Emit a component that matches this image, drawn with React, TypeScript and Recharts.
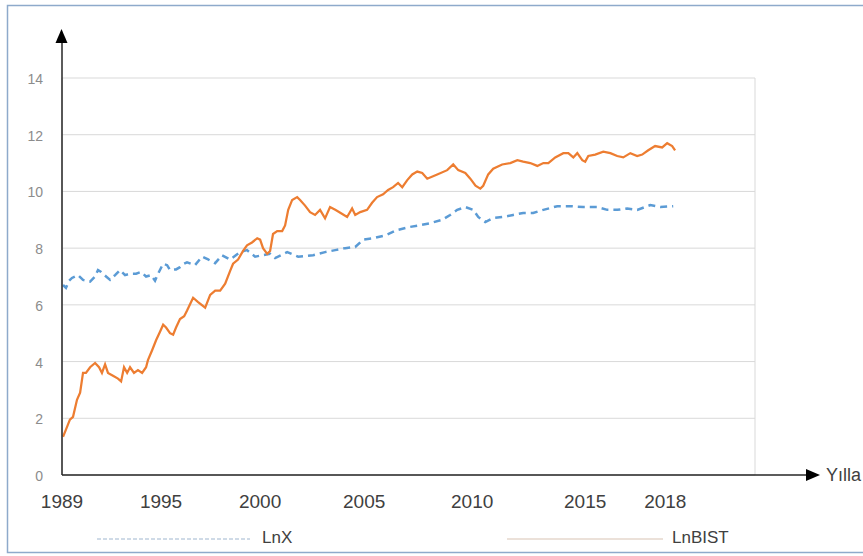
import React from 'react';
import { LineChart, Line, XAxis, YAxis, CartesianGrid } from 'recharts';

// LnBIST (orange) – decimal year / value pairs
const bistYears = [
  1989.05, 1989.19, 1989.38, 1989.53, 1989.72, 1989.87, 1990.01, 1990.15, 1990.35, 1990.59,
  1990.78, 1990.92, 1991.07, 1991.21, 1991.45, 1991.69, 1991.84, 1991.98, 1992.13, 1992.27,
  1992.46, 1992.65, 1992.85, 1993.04, 1993.13, 1993.33, 1993.52, 1993.71, 1993.86, 1994.0,
  1994.19, 1994.34, 1994.48, 1994.67, 1994.87, 1995.01, 1995.3, 1995.54, 1995.88, 1996.12,
  1996.36, 1996.6, 1996.84, 1997.08, 1997.22, 1997.46, 1997.7, 1997.89, 1998.13, 1998.38,
  1998.52, 1998.66, 1998.86, 1999.0, 1999.14, 1999.34, 1999.58, 1999.72, 1999.87, 2000.06,
  2000.3, 2000.44, 2000.68, 2000.92, 2001.16, 2001.4, 2001.64, 2001.88, 2002.13, 2002.37,
  2002.7, 2002.94, 2003.09, 2003.33, 2003.66, 2003.9, 2004.14, 2004.43, 2004.67, 2004.91,
  2005.15, 2005.35, 2005.59, 2005.83, 2006.07, 2006.31, 2006.55, 2007.03, 2007.51, 2007.8,
  2008.04, 2008.38, 2008.62, 2008.87, 2009.1, 2009.24, 2009.48, 2009.72, 2010.15, 2010.54,
  2010.88, 2011.16, 2011.5, 2011.84, 2012.13, 2012.37, 2012.7, 2013.09, 2013.33, 2013.57,
  2013.76, 2014.0, 2014.14, 2014.29, 2014.62, 2015.01, 2015.35, 2015.68, 2015.97, 2016.31,
  2016.64, 2016.88, 2017.17, 2017.5, 2017.84, 2018.08, 2018.32, 2018.46,
];
const bistValues = [
  1.35, 1.6, 1.95, 2.05, 2.65, 2.9, 3.6, 3.6, 3.8, 3.95,
  3.8, 3.6, 3.9, 3.6, 3.5, 3.4, 3.3, 3.8, 3.6, 3.8,
  3.6, 3.7, 3.6, 3.8, 4.05, 4.4, 4.75, 5.05, 5.3, 5.2,
  5.0, 4.95, 5.2, 5.5, 5.6, 5.8, 6.25, 6.1, 5.9, 6.35,
  6.5, 6.5, 6.75, 7.2, 7.45, 7.6, 7.9, 8.1, 8.2, 8.35,
  8.3, 8.0, 7.8, 7.9, 8.5, 8.6, 8.6, 8.8, 9.35, 9.7,
  9.8, 9.7, 9.5, 9.27, 9.17, 9.35, 9.05, 9.45, 9.35, 9.25,
  9.1, 9.4, 9.17, 9.27, 9.35, 9.6, 9.8, 9.9, 10.05, 10.15,
  10.3, 10.15, 10.4, 10.6, 10.7, 10.65, 10.45, 10.6, 10.75, 10.95,
  10.75, 10.65, 10.45, 10.2, 10.1, 10.2, 10.6, 10.8, 10.95, 11.0,
  11.1, 11.05, 11.0, 10.9, 11.0, 11.0, 11.2, 11.35, 11.35, 11.2,
  11.35, 11.1, 11.05, 11.25, 11.3, 11.4, 11.35, 11.25, 11.2, 11.35,
  11.25, 11.3, 11.45, 11.6, 11.55, 11.7, 11.6, 11.45,
];

// LnX (blue dashed)
const lnxYears = [
  1989.05, 1989.19, 1989.34, 1989.48, 1989.77, 1990.01, 1990.2, 1990.35, 1990.59, 1990.73,
  1990.88, 1991.12, 1991.31, 1991.55, 1991.79, 1992.03, 1992.27, 1992.56, 1992.8, 1993.04,
  1993.28, 1993.47, 1993.62, 1993.86, 1994.05, 1994.19, 1994.48, 1994.67, 1994.87, 1995.01,
  1995.2, 1995.39, 1995.73, 1996.02, 1996.36, 1996.69, 1997.08, 1997.56, 1997.89, 1998.28,
  1998.62, 1999.0, 1999.24, 1999.82, 2000.35, 2001.07, 2001.64, 2002.13, 2002.61, 2003.09,
  2003.47, 2003.95, 2004.53, 2005.11, 2005.73, 2006.12, 2006.69, 2007.27, 2007.65, 2007.99,
  2008.38, 2008.76, 2009.0, 2009.34, 2009.72, 2010.2, 2010.68, 2011.16, 2011.64, 2012.13,
  2012.8, 2013.42, 2014.05, 2014.72, 2015.2, 2015.68, 2016.16, 2016.64, 2017.27, 2017.75,
  2018.37,
];
const lnxValues = [
  6.7, 6.6, 6.85, 6.95, 7.05, 6.88, 6.85, 6.82, 7.0, 7.23,
  7.16, 7.0, 6.88, 7.05, 7.23, 7.05, 7.1, 7.1, 7.16, 7.0,
  7.05, 6.85, 7.1, 7.45, 7.4, 7.23, 7.25, 7.33, 7.45, 7.5,
  7.45, 7.4, 7.7, 7.6, 7.47, 7.75, 7.6, 7.86, 7.93, 7.7,
  7.75, 7.8, 7.65, 7.86, 7.7, 7.75, 7.86, 7.93, 8.0, 8.04,
  8.3, 8.35, 8.45, 8.64, 8.75, 8.8, 8.88, 9.0, 9.17, 9.35,
  9.45, 9.35, 9.1, 8.92, 9.06, 9.1, 9.17, 9.24, 9.24, 9.35,
  9.48, 9.48, 9.45, 9.45, 9.35, 9.35, 9.4, 9.35, 9.52, 9.45,
  9.48,
];

const yTicks = [0, 2, 4, 6, 8, 10, 12, 14];
const xTickLabels = ['1989', '1995', '2000', '2005', '2010', '2015', '2018'];
const xTickPositions = [1989.0, 1993.76, 1998.52, 2003.52, 2008.71, 2014.14, 2017.99];
const seriesNames = ['LnX', 'LnBIST'];
const xAxisTitle = 'Yılla';

const X_START = 1989;
const X_END = 2022.3;
const GRID_DIVISIONS = 8;

const FONT = "'Liberation Sans', Arial, sans-serif";
const BLUE = '#5B9BD5';
const ORANGE = '#ED7D31';

function buildData() {
  const map = new Map<number, any>();
  bistYears.forEach((yr, i) => {
    const r = map.get(yr) || { year: yr };
    r.bist = bistValues[i];
    map.set(yr, r);
  });
  lnxYears.forEach((yr, i) => {
    const r = map.get(yr) || { year: yr };
    r.lnx = lnxValues[i];
    map.set(yr, r);
  });
  return Array.from(map.values()).sort((a, b) => a.year - b.year);
}

const data = buildData();
const gridTicks = Array.from({ length: GRID_DIVISIONS + 1 }, (_, i) => X_START + (i * (X_END - X_START)) / GRID_DIVISIONS);

const XLabelTick = (props: any) => {
  const { x, y, payload } = props;
  const idx = xTickPositions.indexOf(payload.value);
  return (
    <text x={x} y={y + 26} textAnchor="middle" dominantBaseline="central" fill="#404040" fontSize={19} fontFamily={FONT}>
      {idx >= 0 ? xTickLabels[idx] : ''}
    </text>
  );
};

const YLabelTick = (props: any) => {
  const { x, y, payload } = props;
  return (
    <text x={x} y={y + 1} textAnchor="end" dominantBaseline="central" fill="#8c8c8c" fontSize={14} fontFamily={FONT}>
      {payload.value}
    </text>
  );
};

export default function App() {
  return (
    <div style={{ position: 'absolute', left: 0, top: 0, width: 863, height: 556, background: '#fff' }}>
      <LineChart width={863} height={556} data={data} margin={{ top: 78, right: 108, bottom: 41, left: 0 }}>
        <CartesianGrid xAxisId="grid" stroke="#d9d9d9" strokeWidth={1} />
        <XAxis
          xAxisId="grid"
          dataKey="year"
          type="number"
          domain={[X_START, X_END]}
          ticks={gridTicks}
          tick={false}
          tickLine={false}
          axisLine={false}
          height={0}
          allowDataOverflow
        />
        <XAxis
          xAxisId="lbl"
          dataKey="year"
          type="number"
          domain={[X_START, X_END]}
          ticks={xTickPositions}
          tick={<XLabelTick />}
          tickLine={false}
          axisLine={false}
          tickSize={0}
          tickMargin={0}
          height={40}
          allowDataOverflow
          interval={0}
        />
        <YAxis
          domain={[0, 14]}
          ticks={yTicks}
          width={62}
          tick={<YLabelTick />}
          tickLine={false}
          axisLine={false}
          tickSize={0}
          tickMargin={19}
          interval={0}
        />
        <Line
          xAxisId="grid"
          dataKey="lnx"
          name={seriesNames[0]}
          type="linear"
          stroke={BLUE}
          strokeWidth={2.5}
          strokeDasharray="7 5"
          dot={false}
          connectNulls
          isAnimationActive={false}
        />
        <Line
          xAxisId="grid"
          dataKey="bist"
          name={seriesNames[1]}
          type="linear"
          stroke={ORANGE}
          strokeWidth={2.25}
          dot={false}
          connectNulls
          isAnimationActive={false}
        />
      </LineChart>
      <svg width={863} height={556} style={{ position: 'absolute', left: 0, top: 0, pointerEvents: 'none' }}>
        <rect x={7.5} y={5.5} width={870} height={547} fill="none" stroke="#8eaacb" strokeWidth={1.5} />
        <line x1={62} y1={475} x2={62} y2={40} stroke="#262626" strokeWidth={1.5} />
        <polygon points="61.5,29 55.5,43 67.5,43" fill="#000" />
        <line x1={62} y1={475} x2={808} y2={475} stroke="#262626" strokeWidth={1.5} />
        <polygon points="820,475 806,469 806,481" fill="#000" />
        <text x={826} y={475} dominantBaseline="central" fill="#404040" fontSize={18} fontFamily={FONT}>
          {xAxisTitle}
        </text>
        <line x1={97} y1={539} x2={250} y2={539} stroke="#9fb6cf" strokeWidth={1} strokeDasharray="4 2" />
        <text x={262} y={537} dominantBaseline="central" fill="#404040" fontSize={17} fontFamily={FONT}>
          {seriesNames[0]}
        </text>
        <line x1={507} y1={539} x2={663} y2={539} stroke="#d8c3b3" strokeWidth={1} />
        <text x={672} y={537} dominantBaseline="central" fill="#404040" fontSize={17} fontFamily={FONT}>
          {seriesNames[1]}
        </text>
      </svg>
    </div>
  );
}
